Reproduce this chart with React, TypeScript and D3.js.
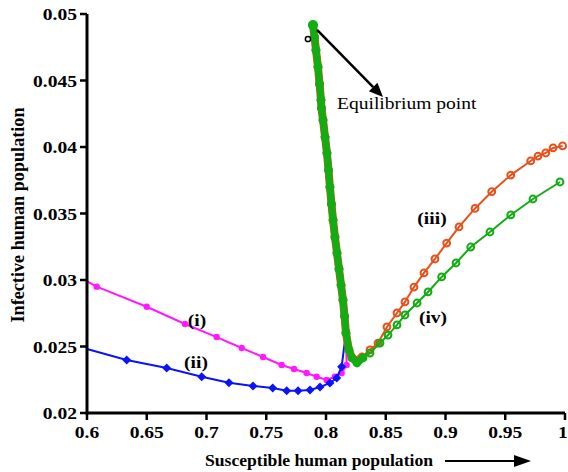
import React from 'react';
import * as d3 from 'd3';

const xTicks = [0.6, 0.65, 0.7, 0.75, 0.8, 0.85, 0.9, 0.95, 1];
const xTickLabels = ['0.6', '0.65', '0.7', '0.75', '0.8', '0.85', '0.9', '0.95', '1'];
const yTicks = [0.02, 0.025, 0.03, 0.035, 0.04, 0.045, 0.05];
const yTickLabels = ['0.02', '0.025', '0.03', '0.035', '0.04', '0.045', '0.05'];

// common steep approach to the equilibrium (bottom to top)
const steepX = [0.8167, 0.8155, 0.8142, 0.8126, 0.8109, 0.8092, 0.8075, 0.8059, 0.8046, 0.8033, 0.8021, 0.8008, 0.7992, 0.7975, 0.7962, 0.7958, 0.7946, 0.7933, 0.7916, 0.7904, 0.7891];
const steepY = [0.02602, 0.02729, 0.0285, 0.02962, 0.03083, 0.03203, 0.03323, 0.03451, 0.03571, 0.03699, 0.03827, 0.03955, 0.04075, 0.04203, 0.04293, 0.04353, 0.04474, 0.04602, 0.04729, 0.04827, 0.04917];

// (i) magenta
const s1X = [0.6, 0.6081, 0.65, 0.682, 0.7085, 0.7295, 0.7473, 0.7629, 0.7732, 0.7838, 0.7922, 0.8006, 0.8075, 0.8131, 0.8173];
const s1Y = [0.0299, 0.0295, 0.02799, 0.02669, 0.02571, 0.02489, 0.02421, 0.02361, 0.02331, 0.02301, 0.02273, 0.02248, 0.02273, 0.02301, 0.02361];
// (ii) blue
const s2X = [0.6, 0.6332, 0.6667, 0.696, 0.7188, 0.7389, 0.7554, 0.7671, 0.7766, 0.7866, 0.795, 0.8033, 0.809, 0.8131];
const s2Y = [0.02481, 0.02398, 0.02338, 0.02273, 0.02228, 0.02203, 0.02188, 0.02168, 0.02168, 0.02173, 0.02195, 0.02226, 0.02263, 0.02348];
// (iii) orange, from right end toward the V bottom
const s3X = [0.998, 0.99, 0.9839, 0.9774, 0.9713, 0.9546, 0.9387, 0.9247, 0.9113, 0.901, 0.8912, 0.882, 0.8736, 0.8661, 0.8594, 0.851, 0.8435, 0.8368, 0.8301, 0.8259, 0.8218, 0.8192];
const s3Y = [0.04008, 0.03993, 0.03955, 0.03932, 0.03895, 0.03789, 0.03664, 0.03538, 0.03399, 0.03278, 0.03158, 0.03053, 0.02947, 0.02835, 0.02752, 0.02647, 0.02526, 0.02474, 0.02421, 0.02391, 0.02414, 0.02474];
// (iv) green
const s4X = [0.9958, 0.9732, 0.9546, 0.9372, 0.9211, 0.9088, 0.8968, 0.8854, 0.8762, 0.8661, 0.8594, 0.8519, 0.8452, 0.8368, 0.831, 0.8259, 0.8218, 0.8192];
const s4Y = [0.03737, 0.03609, 0.03489, 0.03361, 0.03248, 0.03128, 0.03023, 0.0291, 0.02827, 0.02737, 0.02662, 0.02586, 0.02526, 0.02451, 0.02414, 0.02376, 0.02414, 0.02474];

const eqMarker = [0.7849, 0.04812];
const eqArrowFrom = [0.7925, 0.0488];
const eqArrowTo = [0.8477, 0.04376];

const W = 568, H = 472;
const FONT = 'Liberation Serif';

const x = d3.scaleLinear().domain([0.6, 1]).range([87, 565]);
const y = d3.scaleLinear().domain([0.02, 0.05]).range([413, 14]);

type P = [number, number];
const zip = (a: number[], b: number[]): P[] => a.map((v, i) => [v, b[i]]);
const steep = zip(steepX, steepY);
const line = d3.line<P>().x(d => x(d[0])).y(d => y(d[1]));

const ser1 = [...zip(s1X, s1Y), ...steep];
const ser2 = [...zip(s2X, s2Y), ...steep];
const ser3 = [...zip(s3X, s3Y), ...steep];
const ser4 = [...zip(s4X, s4Y), ...steep];
const band3 = [...zip(s3X, s3Y).slice(18), ...steep];
const band4 = [...zip(s4X, s4Y).slice(14), ...steep];

const MAG = '#ff19ff';
const BLUE = '#0a14f5';
const ORANGE = '#e6521c';
const GREEN = '#12ad12';

function SText(props: { x: number; y: number; anchor?: string; size?: number; bold?: boolean; sx?: number; children: React.ReactNode }) {
  const { x: tx, y: ty, anchor = 'start', size = 17, bold = true, sx = 1.15, children } = props;
  return (
    <g transform={`translate(${tx},${ty}) scale(${sx},1)`}>
      <text x={0} y={0} textAnchor={anchor} fontSize={size} fontWeight={bold ? 'bold' : 'normal'} style={{ fontFamily: FONT }}>{children}</text>
    </g>
  );
}

export default function App() {
  const diamond = (cx: number, cy: number, r: number) => `M${cx},${cy - r}L${cx + r},${cy}L${cx},${cy + r}L${cx - r},${cy}Z`;
  return (
    <svg width={W} height={H} style={{ position: 'absolute', left: 0, top: 0, background: '#fff' }}>
      {/* series (i) */}
      <path d={line(ser1) || ''} fill="none" stroke={MAG} strokeWidth={2} />
      {ser1.slice(1).map((d, i) => <circle key={'m' + i} cx={x(d[0])} cy={y(d[1])} r={3.2} fill={MAG} />)}
      {/* series (ii) */}
      <path d={line(ser2) || ''} fill="none" stroke={BLUE} strokeWidth={2} />
      {ser2.slice(1).map((d, i) => <path key={'b' + i} d={diamond(x(d[0]), y(d[1]), 4.5)} fill={BLUE} />)}
      {/* series (iii) */}
      <path d={line(band3) || ''} fill="none" stroke={ORANGE} strokeWidth={8} strokeLinejoin="round" strokeLinecap="round" />
      <path d={line(ser3) || ''} fill="none" stroke={ORANGE} strokeWidth={2} />
      {ser3.map((d, i) => <circle key={'o' + i} cx={x(d[0])} cy={y(d[1])} r={3.4} fill="none" stroke={ORANGE} strokeWidth={2} />)}
      {/* series (iv) */}
      <path d={line(band4) || ''} fill="none" stroke={GREEN} strokeWidth={7} strokeLinejoin="round" strokeLinecap="round" />
      <path d={line(ser4) || ''} fill="none" stroke={GREEN} strokeWidth={2} />
      {ser4.map((d, i) => <circle key={'g' + i} cx={x(d[0])} cy={y(d[1])} r={3.4} fill="none" stroke={GREEN} strokeWidth={2} />)}
      <circle cx={x(steepX[steepX.length - 1])} cy={y(steepY[steepY.length - 1])} r={5} fill={GREEN} />
      <circle cx={x(eqMarker[0])} cy={y(eqMarker[1])} r={2.6} fill="#fff" stroke="#000" strokeWidth={1.5} />

      {/* axes */}
      <line x1={87} x2={87} y1={y(0.05)} y2={414.5} stroke="#000" strokeWidth={3} />
      <line x1={85.5} x2={x(1)} y1={413} y2={413} stroke="#000" strokeWidth={3} />
      {yTicks.map((t, i) => (
        <g key={'yt' + i}>
          <line x1={80} x2={87} y1={y(t)} y2={y(t)} stroke="#000" strokeWidth={2.5} />
          <SText x={77} y={y(t) + 6} anchor="end">{yTickLabels[i]}</SText>
        </g>
      ))}
      {xTicks.map((t, i) => (
        <g key={'xt' + i}>
          <line x1={x(t)} x2={x(t)} y1={413} y2={420} stroke="#000" strokeWidth={2.5} />
          <SText x={i === xTicks.length - 1 ? x(t) - 2 : x(t)} y={438} anchor="middle">{xTickLabels[i]}</SText>
        </g>
      ))}

      <text transform={`translate(24,215) rotate(-90)`} textAnchor="middle" fontSize={18} fontWeight="bold" textLength={215} lengthAdjust="spacingAndGlyphs" style={{ fontFamily: FONT }}>Infective human population</text>
      <text x={205} y={466} fontSize={17} fontWeight="bold" textLength={228} lengthAdjust="spacingAndGlyphs" style={{ fontFamily: FONT }}>Susceptible human population</text>
      <line x1={445} x2={516} y1={461} y2={461} stroke="#000" strokeWidth={2} />
      <path d="M514,455L531,461L514,467Z" fill="#000" />

      {/* labels */}
      <SText x={197} y={326} anchor="middle">(i)</SText>
      <SText x={196} y={368} anchor="middle">(ii)</SText>
      <SText x={432} y={224} anchor="middle">(iii)</SText>
      <SText x={433} y={323} anchor="middle">(iv)</SText>

      {/* equilibrium annotation */}
      {(() => {
        const x1 = x(eqArrowFrom[0]), y1 = y(eqArrowFrom[1]);
        const x2 = x(eqArrowTo[0]), y2 = y(eqArrowTo[1]);
        const ang = Math.atan2(y2 - y1, x2 - x1);
        const L = 14, Wd = 6;
        const bx = x2 - L * Math.cos(ang), by = y2 - L * Math.sin(ang);
        const px = -Math.sin(ang) * Wd, py = Math.cos(ang) * Wd;
        return (
          <g>
            <line x1={x1} y1={y1} x2={bx} y2={by} stroke="#000" strokeWidth={2.5} />
            <path d={`M${x2},${y2}L${bx + px},${by + py}L${bx - px},${by - py}Z`} fill="#000" />
          </g>
        );
      })()}
      <SText x={337} y={109} bold={false}>Equilibrium point</SText>
    </svg>
  );
}
